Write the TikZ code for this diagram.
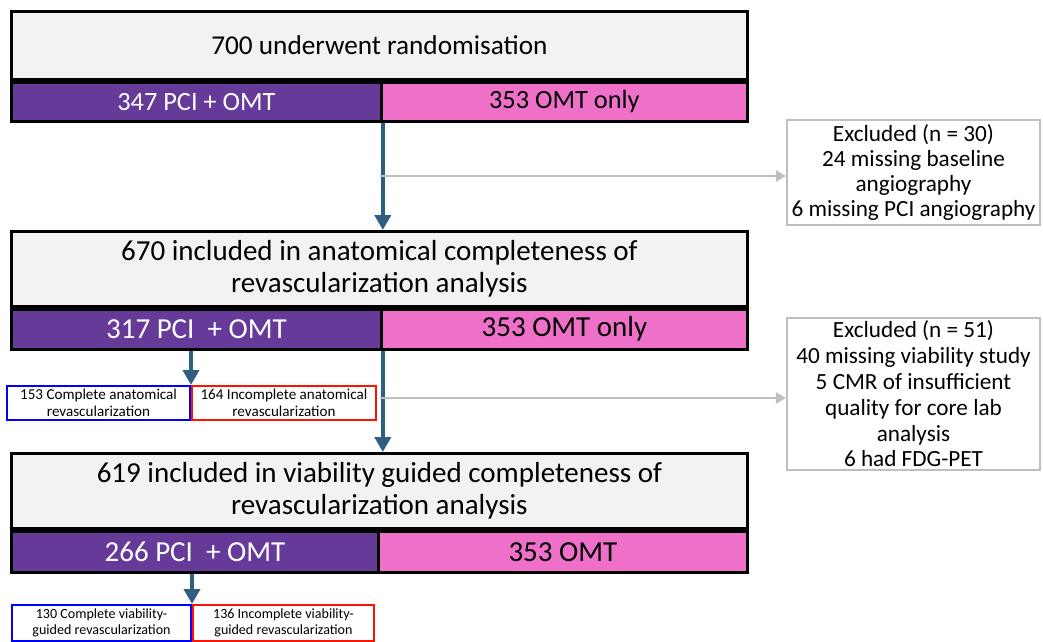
\documentclass[tikz,border=0pt]{standalone}
\usepackage{fontspec}
\setmainfont{Carlito}
\usetikzlibrary{arrows.meta,positioning}

\definecolor{pcipurple}{HTML}{663A99}
\definecolor{omtpink}{HTML}{EE70C8}
\definecolor{flowblue}{HTML}{2E5F83}
\definecolor{exclgray}{HTML}{BFBFBF}
\definecolor{headgray}{HTML}{F2F2F2}

\begin{document}
\begin{tikzpicture}[>=Triangle,
  head/.style={draw, line width=1.6pt, fill=headgray, minimum width=14.72cm, align=center, inner sep=0pt, font=\fontsize{16.5}{18.2}\selectfont},
  arm/.style={draw, line width=1.6pt, inner sep=0pt, font=\fontsize{16.5}{18}\selectfont},
  pci/.style={arm, fill=pcipurple, text=white, anchor=north west},
  omt/.style={arm, fill=omtpink, anchor=north east},
  excl/.style={draw=exclgray, line width=1.2pt, fill=white, align=center, inner sep=0pt, minimum width=5.06cm, font=\fontsize{13.2}{14.4}\selectfont},
  sb/.style={draw, line width=1.1pt, fill=white, align=center, inner sep=0pt, font=\fontsize{8}{9}\selectfont},
  flow/.style={draw=flowblue, line width=2.2pt, -{Triangle[length=0.3cm, width=0.32cm]}},
  skip/.style={draw=exclgray, line width=1.6pt, -{Triangle[length=0.2cm, width=0.22cm]}}
]
\useasboundingbox (0,0) rectangle (20.86,-12.84);
% randomised population
\node[head, minimum height=1.36cm, anchor=north west, font=\fontsize{15.5}{18}\selectfont] (top) at (0.2,-0.2) {700 underwent randomisation};
\node[pci, minimum width=7.4cm, minimum height=0.78cm, font=\fontsize{15}{18}\selectfont] (pci1) at (top.south west) {347 PCI + OMT};
\node[omt, minimum width=7.32cm, minimum height=0.78cm, font=\fontsize{15}{18}\selectfont] (omt1) at (top.south east) {353 OMT only};
% anatomical analysis
\node[head, minimum height=1.5cm, anchor=north west] (mid) at (0.2,-4.6) {670 included in anatomical completeness of\\revascularization analysis};
\node[pci, minimum width=7.4cm, minimum height=0.8cm] (pci2) at (mid.south west) {317 PCI\ \ + OMT};
\node[omt, minimum width=7.32cm, minimum height=0.8cm] (omt2) at (mid.south east) {353 OMT only};
% viability analysis
\node[head, minimum height=1.5cm, anchor=north west] (low) at (0.2,-9.04) {619 included in viability guided completeness of\\revascularization analysis};
\node[pci, minimum width=7.34cm, minimum height=0.82cm] (pci3) at (low.south west) {266 PCI\ \ + OMT};
\node[omt, minimum width=7.38cm, minimum height=0.82cm] (omt3) at (low.south east) {353 OMT};
% exclusions
\node[excl, minimum height=2.1cm] (excl1) at (18.27,-3.45) {Excluded (n = 30)\\24 missing baseline\\angiography\\6 missing PCI angiography};
\node[excl, minimum height=3.04cm, font=\fontsize{13.2}{14.7}\selectfont] (excl2) at (18.27,-7.88) {Excluded (n = 51)\\40 missing viability study\\5 CMR of insufficient\\quality for core lab\\analysis\\6 had FDG-PET};
% anatomical subgroups
\coordinate (split1) at (3.82,-7.7);
\node[sb, draw=blue, minimum width=3.66cm, minimum height=0.68cm, anchor=north east, font=\fontsize{8.6}{9.3}\selectfont] (cav) at (split1) {153 Complete anatomical\\revascularization};
\node[sb, draw=red!85!orange, minimum width=3.68cm, minimum height=0.68cm, anchor=north west, font=\fontsize{8.6}{9.3}\selectfont] (iav) at (split1) {164 Incomplete anatomical\\revascularization};
% viability subgroups
\coordinate (split2) at (3.84,-12.08);
\node[sb, draw=blue, minimum width=3.58cm, minimum height=0.72cm, anchor=north east] (cvg) at (split2) {130 Complete viability-\\guided revascularization};
\node[sb, draw=red!85!orange, minimum width=3.62cm, minimum height=0.72cm, anchor=north west] (ivg) at (split2) {136 Incomplete viability-\\guided revascularization};
% flow between stages
\draw[flow] (pci1.south east) -- (mid.north -| pci1.south east);
\coordinate (b1) at (7.6,-3.52);
\draw[skip] (b1) -- (b1 -| excl1.west);
\draw[flow] (pci2.south east) -- (low.north -| pci2.south east);
\coordinate (b2) at (7.6,-7.96);
\draw[skip] (b2) -- (b2 -| excl2.west);
\draw[flow] (split1 |- pci2.south) -- (split1);
\draw[flow] (split2 |- pci3.south) -- (split2);
\end{tikzpicture}
\end{document}
